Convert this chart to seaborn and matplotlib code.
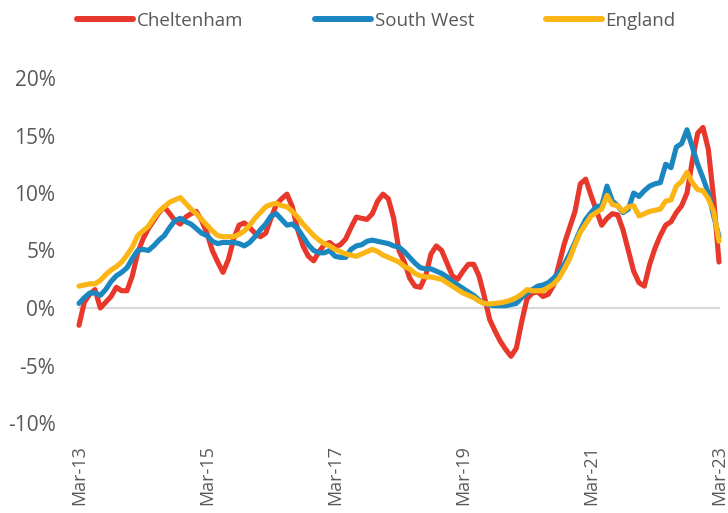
import matplotlib
matplotlib.use("Agg")
import matplotlib.pyplot as plt
import seaborn as sns
import pandas as pd
from matplotlib import font_manager as fm
from matplotlib.lines import Line2D

# ---------------- data (annual % change, monthly Mar-13 .. Mar-23) ----------------
series_names = ["Cheltenham", "South West", "England"]

cheltenham = [
    -1.5, 0.5, 1.2, 1.6, 0.0, 0.5, 1.0, 1.8, 1.5, 1.5,
    2.8, 4.8, 6.0, 6.9, 7.6, 8.3, 8.8, 8.2, 7.6, 7.3,
    7.9, 8.2, 8.4, 7.6, 6.5, 5.0, 4.0, 3.1, 4.2, 6.0,
    7.2, 7.4, 7.0, 6.5, 6.2, 6.5, 7.8, 9.0, 9.5, 9.9,
    8.8, 6.8, 5.4, 4.5, 4.1, 4.9, 5.5, 5.7, 5.3, 5.5,
    6.0, 7.0, 7.9, 7.8, 7.7, 8.2, 9.3, 9.9, 9.5, 7.8,
    5.0, 4.0, 2.6, 1.9, 1.8, 2.8, 4.7, 5.4, 5.0, 3.9,
    2.8, 2.5, 3.2, 3.8, 3.8, 2.8, 1.0, -1.0, -2.0, -2.9,
    -3.6, -4.2, -3.5, -1.2, 0.8, 1.3, 1.4, 1.0, 1.2, 2.0,
    3.8, 5.6, 7.0, 8.4, 10.8, 11.2, 9.8, 8.5, 7.2, 7.8,
    8.2, 8.1, 6.8, 5.0, 3.2, 2.2, 1.9, 3.8, 5.2, 6.3,
    7.2, 7.5, 8.3, 8.9, 10.0, 12.8, 15.2, 15.7, 13.8, 9.5,
    4.0,
]

south_west = [
    0.4, 0.9, 1.3, 1.3, 1.1, 1.6, 2.3, 2.8, 3.1, 3.5,
    4.3, 5.0, 5.1, 5.0, 5.4, 5.9, 6.3, 7.0, 7.6, 7.8,
    7.5, 7.3, 6.9, 6.5, 6.3, 5.8, 5.6, 5.7, 5.7, 5.7,
    5.6, 5.4, 5.7, 6.2, 6.8, 7.3, 8.0, 8.2, 7.7, 7.2,
    7.3, 6.9, 6.2, 5.5, 5.0, 4.8, 4.8, 5.0, 4.5, 4.4,
    4.4, 5.1, 5.4, 5.5, 5.8, 5.9, 5.8, 5.7, 5.6, 5.4,
    5.3, 4.9, 4.4, 3.9, 3.5, 3.4, 3.4, 3.2, 3.0, 2.7,
    2.3, 2.0, 1.7, 1.4, 1.1, 0.7, 0.4, 0.25, 0.2, 0.2,
    0.2, 0.3, 0.4, 0.9, 1.3, 1.6, 1.9, 2.0, 2.2, 2.6,
    3.1, 3.8, 4.7, 5.7, 6.8, 7.7, 8.3, 8.8, 8.9, 10.6,
    9.3, 8.9, 8.3, 8.6, 10.0, 9.7, 10.2, 10.6, 10.8, 10.9,
    12.5, 12.2, 14.0, 14.3, 15.5, 14.0, 12.5, 11.3, 10.0, 8.0,
    6.2,
]

england = [
    1.9, 2.0, 2.1, 2.1, 2.4, 2.9, 3.3, 3.6, 4.0, 4.6,
    5.3, 6.3, 6.7, 7.1, 7.8, 8.4, 8.8, 9.2, 9.4, 9.6,
    9.1, 8.6, 8.2, 7.7, 7.2, 6.7, 6.3, 6.2, 6.2, 6.2,
    6.4, 6.7, 7.2, 7.8, 8.3, 8.8, 9.0, 9.1, 8.9, 8.8,
    8.4, 7.9, 7.3, 6.8, 6.3, 5.9, 5.6, 5.4, 5.1, 4.9,
    4.7, 4.6, 4.5, 4.7, 4.9, 5.1, 4.9, 4.6, 4.4, 4.2,
    4.0, 3.6, 3.4, 3.0, 2.8, 2.7, 2.7, 2.6, 2.5, 2.2,
    1.9, 1.6, 1.3, 1.1, 0.9, 0.6, 0.4, 0.35, 0.4, 0.45,
    0.55, 0.7, 0.9, 1.2, 1.6, 1.5, 1.5, 1.5, 1.8, 2.1,
    2.6, 3.4, 4.3, 5.5, 6.6, 7.3, 8.0, 8.3, 8.6, 9.8,
    9.0, 8.9, 8.4, 8.8, 8.9, 8.0, 8.2, 8.4, 8.5, 8.6,
    9.3, 9.4, 10.6, 11.0, 11.8, 10.9, 10.3, 10.2, 9.5, 8.4,
    5.8,
]

tick_months = [0, 24, 48, 72, 96, 120]
tick_labels = ["Mar-13", "Mar-15", "Mar-17", "Mar-19", "Mar-21", "Mar-23"]
y_ticks = [-10, -5, 0, 5, 10, 15, 20]

colors = {"Cheltenham": "#E8372B", "South West": "#1A87C1", "England": "#FBB515"}

# ---------------- build table ----------------
frames = []
for name, vals in zip(series_names, [cheltenham, south_west, england]):
    frames.append(pd.DataFrame({"month": range(len(vals)), "value": vals, "series": name}))
df = pd.concat(frames, ignore_index=True)

sns.set_theme(style="white")
plt.rcParams["font.family"] = ["Open Sans", "DejaVu Sans"]

grey_txt = "#595959"
axis_grey = "#D9D9D9"

fig = plt.figure(figsize=(7.28, 5.13), dpi=100)
ax = fig.add_axes([79 / 728, 90 / 513, 640 / 728, 345 / 513])

sns.lineplot(
    data=df, x="month", y="value", hue="series", hue_order=series_names,
    palette=colors, linewidth=3.7, ax=ax, legend=False,
    solid_joinstyle="round", solid_capstyle="round", clip_on=False,
)

ax.set_xlim(0, 120)
ax.set_ylim(-10, 20)
ax.set_xlabel("")
ax.set_ylabel("")

# y axis
ax.set_yticks(y_ticks)
ax.set_yticklabels([f"{v}%" for v in y_ticks], fontsize=15, color=grey_txt)
ax.tick_params(axis="y", length=0, pad=17)

# x axis line at zero with tick marks
for s in ["left", "right", "top"]:
    ax.spines[s].set_visible(False)
ax.spines["bottom"].set_position(("data", 0))
ax.spines["bottom"].set_color(axis_grey)
ax.spines["bottom"].set_linewidth(1.6)
ax.spines["bottom"].set_zorder(0.5)
ax.set_xticks(tick_months)
ax.tick_params(axis="x", direction="out", length=5, width=1.6, color=axis_grey, labelbottom=False)

# labels at the bottom of the plot area
sec = ax.secondary_xaxis("bottom")
sec.set_xticks(tick_months)
sec.set_xticklabels(tick_labels, rotation=90, fontsize=13, color=grey_txt)
sec.tick_params(axis="x", length=0, pad=16)
sec.spines["bottom"].set_visible(False)

# legend
handles = [Line2D([0], [0], color=colors[n], lw=4.3, solid_capstyle="round") for n in series_names]
fig.legend(
    handles, series_names, loc="center left", bbox_to_anchor=(77 / 728, 1 - 21 / 513),
    ncol=3, frameon=False, handlelength=3.0, handletextpad=0.2, columnspacing=3.8,
    borderpad=0, borderaxespad=0,
    prop=fm.FontProperties(family="Open Sans", size=13.5), labelcolor=grey_txt,
)

fig.savefig("out.png", dpi=100)
